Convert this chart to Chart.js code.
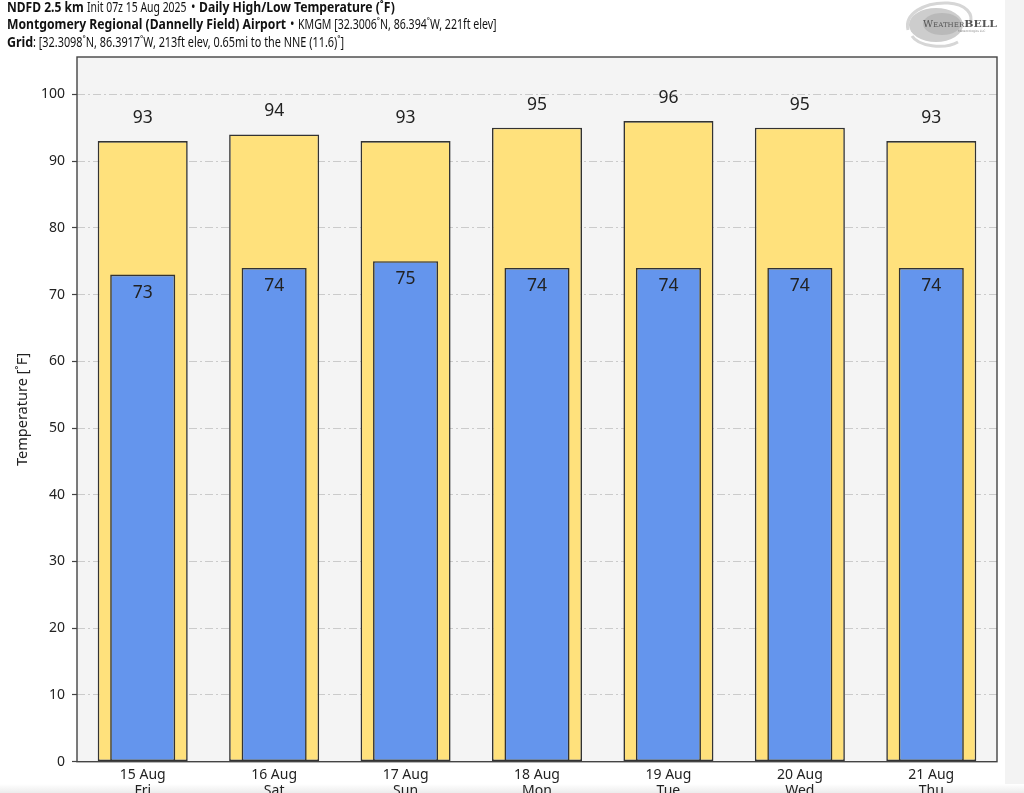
<!DOCTYPE html>
<html>
<head>
<meta charset="utf-8">
<script src="https://cdn.jsdelivr.net/npm/chart.js@4"></script>
<style>
  html, body { margin: 0; padding: 0; background: #ffffff; }
  body { width: 1024px; height: 793px; position: relative; overflow: hidden; font-family: "Noto Sans", sans-serif; }
  #c { position: absolute; left: 0; top: 0; }
  .t { position: absolute; left: 7px; font-size: 14.5px; color: #111; white-space: nowrap; line-height: 16px; }
  .t span { display: inline-block; transform-origin: left center; }
  .b { font-weight: 700; }
  #rstrip { position: absolute; left: 1005px; top: 0; width: 19px; height: 793px; background: #f3f3f3; }
  #bstrip { position: absolute; left: 0; top: 784px; width: 1024px; height: 9px; background: linear-gradient(#ffffff, #ececec); }
  #logo { position: absolute; left: 900px; top: 0px; width: 104px; height: 50px; }
</style>
</head>
<body>
<div id="rstrip"></div>
<div id="bstrip"></div>
<canvas id="c" width="1024" height="793"></canvas>
<div class="t" style="top:-2px"><span class="b" data-s="0.83">NDFD 2.5 km</span> <span data-s="0.72">Init 07z 15 Aug 2025</span> <span data-s="0.83">•</span> <span class="b" data-s="0.84">Daily High/Low Temperature (˚F)</span></div>
<div class="t" style="top:15px"><span class="b" data-s="0.84">Montgomery Regional (Dannelly Field) Airport</span> <span data-s="0.83">•</span> <span data-s="0.73">KMGM [32.3006˚N, 86.394˚W, 221ft elev]</span></div>
<div class="t" style="top:33px"><span class="b" data-s="0.86">Grid</span><span data-s="0.75">: [32.3098˚N, 86.3917˚W, 213ft elev, 0.65mi to the NNE (11.6)˚]</span></div>
<svg id="logo" viewBox="0 0 104 50">
  <path d="M8 30 C 4 14, 24 2, 48 3 C 66 4, 74 14, 70 24" fill="none" stroke="#d6d6d6" stroke-width="3"/>
  <path d="M12 36 C 18 46, 44 50, 58 42" fill="none" stroke="#d6d6d6" stroke-width="3"/>
  <ellipse cx="36" cy="25" rx="27" ry="17" fill="#cdcdcd"/>
  <ellipse cx="42" cy="24" rx="19" ry="11" fill="#b9b9b9"/>
  <text x="23" y="27" font-family="DejaVu Serif, serif" font-size="9" fill="#555" textLength="74" lengthAdjust="spacingAndGlyphs">W<tspan font-size="6.5">EATHER</tspan><tspan font-weight="bold" font-size="10">BELL</tspan></text>
  <text x="58" y="32" font-family="DejaVu Sans" font-size="3" fill="#888">Meteorologics LLC</text>
</svg>
<script>
const categories = [["15 Aug","Fri"],["16 Aug","Sat"],["17 Aug","Sun"],["18 Aug","Mon"],["19 Aug","Tue"],["20 Aug","Wed"],["21 Aug","Thu"]];
const highTemps = [93, 94, 93, 95, 96, 95, 93];
const lowTemps = [73, 74, 75, 74, 74, 74, 74];
const yTicks = [0, 10, 20, 30, 40, 50, 60, 70, 80, 90, 100];

// condense title segments horizontally while keeping real text
document.querySelectorAll('.t span[data-s]').forEach(el => {
  const s = parseFloat(el.dataset.s);
  const w = el.getBoundingClientRect().width;
  el.style.transform = 'scaleX(' + s + ')';
  el.style.marginRight = (-(1 - s) * w) + 'px';
});

const bgPlugin = {
  id: 'bg',
  beforeDraw(chart) {
    const {ctx, chartArea: a} = chart;
    ctx.save();
    ctx.fillStyle = '#f4f4f4';
    ctx.fillRect(a.left, a.top, a.right - a.left, a.bottom - a.top);
    ctx.restore();
  },
  afterDraw(chart) {
    const {ctx, chartArea: a} = chart;
    ctx.save();
    ctx.strokeStyle = '#444444';
    ctx.lineWidth = 1.4;
    ctx.strokeRect(a.left, a.top, a.right - a.left, a.bottom - a.top);
    ctx.restore();
  }
};

const labelPlugin = {
  id: 'vals',
  afterDatasetsDraw(chart) {
    const {ctx} = chart;
    ctx.save();
    ctx.font = '17.5px "Noto Sans", sans-serif';
    ctx.fillStyle = '#222222';
    ctx.textAlign = 'center';
    ctx.textBaseline = 'middle';
    chart.getDatasetMeta(0).data.forEach((bar, i) => {
      ctx.fillText(String(highTemps[i]), bar.x, bar.y - 23);
    });
    chart.getDatasetMeta(1).data.forEach((bar, i) => {
      ctx.fillText(String(lowTemps[i]), bar.x, bar.y + 18);
    });
    ctx.restore();
  }
};

new Chart(document.getElementById('c'), {
  type: 'bar',
  data: {
    labels: categories,
    datasets: [
      { label: 'High', data: highTemps, backgroundColor: '#ffe17c', borderColor: '#333333', borderWidth: 1.6, borderSkipped: false, categoryPercentage: 1, barPercentage: 0.685, order: 2 },
      { label: 'Low', data: lowTemps, backgroundColor: '#6495ed', borderColor: '#333333', borderWidth: 1.6, borderSkipped: false, categoryPercentage: 1, barPercentage: 0.495, order: 1 }
    ]
  },
  options: {
    responsive: false,
    animation: false,
    events: [],
    layout: { padding: { left: 0, right: 27, top: 57, bottom: 0 } },
    plugins: { legend: { display: false }, tooltip: { enabled: false }, title: { display: false } },
    datasets: { bar: { grouped: false } },
    scales: {
      x: {
        grid: { display: false, drawTicks: false },
        border: { display: false },
        ticks: { color: '#222222', font: { family: 'Noto Sans', size: 14, lineHeight: 1.1 }, padding: 6, maxRotation: 0, autoSkip: false },
        afterFit(scale) { scale.height = 31.3; }
      },
      y: {
        min: 0,
        max: 105.6,
        afterBuildTicks(scale) { scale.ticks = yTicks.map(v => ({ value: v })); },
        grid: { color: (c) => c.tick && c.tick.value === 0 ? 'rgba(0,0,0,0)' : '#cbcbcb', lineWidth: 1, tickColor: '#444444', tickLength: 5, tickWidth: 1.2 },
        border: { display: false, dash: [8, 3, 2, 3] },
        ticks: { color: '#222222', font: { family: 'Noto Sans', size: 14 }, padding: 7 },
        title: { display: true, text: 'Temperature [˚F]', color: '#222222', font: { family: 'Noto Sans', size: 14.5 }, padding: { top: 14, bottom: 0 } },
        afterFit(scale) { scale.width = 77; }
      }
    }
  },
  plugins: [bgPlugin, labelPlugin]
});
</script>
</body>
</html>
